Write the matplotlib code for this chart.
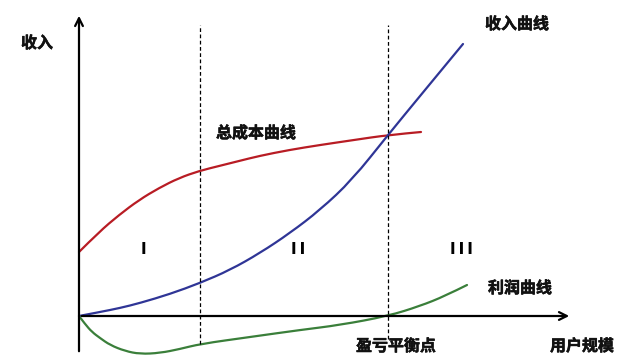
import numpy as np
import matplotlib.pyplot as plt
from matplotlib.path import Path
from matplotlib.patches import PathPatch
import matplotlib.patheffects as pe

plt.rcParams['font.family'] = ['Noto Sans CJK SC', 'DejaVu Sans']

# points, origin at the axis corner, y upward (pixels)
cost_x = [0, 20, 40, 60, 80, 100, 120, 140, 160, 180, 210, 241, 275, 309, 342]
cost_y = [64, 84, 101, 116, 128, 138, 145, 150, 155, 160, 166, 171, 176, 181, 184]

rev_x = [0, 21, 41, 61, 91, 121, 151, 181, 211, 241, 273, 309, 341, 384]
rev_y = [0, 4, 8, 13, 22, 33, 46, 63, 83, 106, 136, 181, 220, 272]

prof_x = [0, 6, 13, 21, 31, 46, 61, 81, 101, 121, 171, 221, 261, 309, 341, 366, 388]
prof_y = [0, -8, -16, -22, -29, -35, -38, -37, -33, -28, -21, -14, -9, 0, 10, 20, 31]

split_x = [121, 309]
split_top = [291, 291]
split_bottom = [-28, -23]

zone_labels = ['I', 'I\u2009I', 'I\u2009I\u2009I']
zone_x = [64, 219, 382]
zone_y = [67, 66, 66]


def smooth_curve(ax, xs, ys, color):
    # quadratic bezier through the midpoints, the read points act as control points
    pts = np.column_stack([xs, ys]).astype(float)
    verts = [pts[0]]
    codes = [Path.MOVETO]
    for i in range(1, len(pts) - 1):
        mid = (pts[i] + pts[i + 1]) / 2
        if i == len(pts) - 2:
            mid = pts[i + 1]
        verts += [pts[i], mid]
        codes += [Path.CURVE3, Path.CURVE3]
    patch = PathPatch(Path(verts, codes), fill=False, edgecolor=color, lw=1.6,
                      capstyle='round')
    ax.add_patch(patch)


fig = plt.figure(figsize=(6.34, 3.62), dpi=100)
ax = fig.add_axes([0, 0, 1, 1])
ax.set_xlim(-79, 634 - 79)
ax.set_ylim(316 - 362, 316)
ax.axis('off')

# axes with arrows
ax.annotate('', xy=(0, 303), xytext=(0, -38),
            arrowprops=dict(arrowstyle='->', lw=1.6, color='black', mutation_scale=14))
ax.annotate('', xy=(493, 0), xytext=(0, 0),
            arrowprops=dict(arrowstyle='->', lw=1.6, color='black', mutation_scale=14))

for sx, st, sb in zip(split_x, split_top, split_bottom):
    ax.plot([sx, sx], [sb, st], color='black', lw=0.9, ls=(0, (3, 2)))

smooth_curve(ax, cost_x, cost_y, '#b81c24')
smooth_curve(ax, rev_x, rev_y, '#2f3596')
smooth_curve(ax, prof_x, prof_y, '#3a7f3a')

heavy = [pe.withStroke(linewidth=0.4, foreground='#111111')]
tkw = dict(fontsize=11.5, fontweight='bold', ha='center', va='center', color='#111111',
           path_effects=heavy)
ax.text(-42, 273, '收入', **tkw)
ax.text(177, 183, '总成本曲线', **tkw)
ax.text(438, 292, '收入曲线', **tkw)
ax.text(441, 28, '利润曲线', **tkw)
ax.text(317, -30, '盈亏平衡点', **tkw)
ax.text(503, -30, '用户规模', **tkw)

for lab, zx, zy in zip(zone_labels, zone_x, zone_y):
    ax.text(zx, zy, lab, family='DejaVu Sans', fontsize=11, fontweight='bold',
            ha='center', va='center', color='black')

plt.savefig('out.png', dpi=100)
